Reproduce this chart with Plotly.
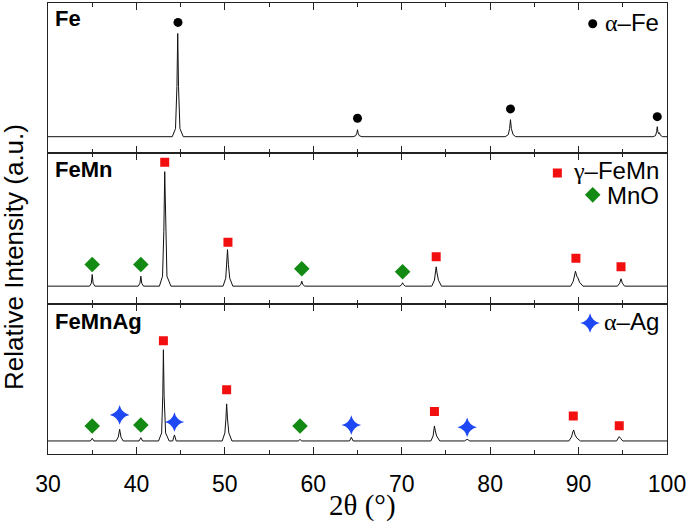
import plotly.graph_objects as go
from plotly.subplots import make_subplots

# ---------------- data ----------------
# Fe pattern (2theta, relative intensity above baseline)
fe_2theta = [30, 44.05, 44.42, 44.58, 44.67, 44.76, 44.92, 45.3,
             64.5, 64.8, 64.93, 65.0, 65.07, 65.2, 65.5,
             81.7, 82.05, 82.2, 82.3, 82.4, 82.6, 82.9,
             98.4, 98.7, 98.83, 98.9, 98.97, 99.05, 99.15, 99.25, 99.5, 100]
fe_int = [0, 0, 8, 50, 103, 50, 8, 0,
          0, 1, 3.5, 7, 3.5, 1, 0,
          0, 2, 8, 17, 8, 2, 0,
          0, 1, 5, 10, 5, 3, 4, 1.5, 0, 0]

femn_2theta = [30,
               34.7, 34.9, 35.0, 35.1, 35.3,
               40.2, 40.4, 40.5, 40.6, 40.8,
               42.6, 42.95, 43.1, 43.2, 43.3, 43.45, 43.9,
               49.8, 50.1, 50.22, 50.3, 50.4, 50.55, 50.9,
               58.4, 58.6, 58.7, 58.8, 59.0,
               69.8, 70.0, 70.1, 70.2, 70.4,
               73.4, 73.7, 73.83, 73.9, 74.0, 74.15, 74.5,
               89.1, 89.4, 89.55, 89.65, 89.8, 89.95, 90.1, 90.5,
               94.4, 94.65, 94.8, 94.95, 95.2,
               100]
femn_int = [0,
            0, 3, 11.7, 3, 0,
            0, 3, 10, 3, 0,
            0, 10, 55, 115, 55, 10, 0,
            0, 8, 22, 36.7, 22, 8, 0,
            0, 2, 5, 2, 0,
            0, 1.5, 3.4, 1.5, 0,
            0, 6, 13, 19.4, 13, 6, 0,
            0, 5, 12, 15, 10, 8, 4, 0,
            0, 3, 7.4, 3, 0,
            0]

femnag_2theta = [30,
                 34.8, 35.0, 35.2,
                 37.7, 37.95, 38.1, 38.25, 38.5,
                 40.3, 40.5, 40.7,
                 42.5, 42.85, 42.98, 43.05, 43.13, 43.3, 43.7,
                 44.1, 44.3, 44.5,
                 49.7, 50.0, 50.12, 50.2, 50.3, 50.45, 50.8,
                 58.3, 58.5, 58.7,
                 64.1, 64.3, 64.5,
                 73.3, 73.55, 73.65, 73.7, 73.8, 73.95, 74.3,
                 77.1, 77.4, 77.7,
                 88.9, 89.2, 89.35, 89.45, 89.6, 89.8, 90.2,
                 94.3, 94.5, 94.6, 94.75, 95.0,
                 100]
femnag_int = [0,
              0, 2.7, 0,
              0, 4, 11.7, 4, 0,
              0, 3.3, 0,
              0, 8, 45, 91, 45, 8, 0,
              0, 6, 0,
              0, 8, 22, 37, 22, 8, 0,
              0, 1.5, 0,
              0, 3.7, 0,
              0, 5, 10, 15, 10, 5, 0,
              0, 1.7, 0,
              0, 4, 9, 11, 6, 3, 0,
              0, 3, 4.3, 2.5, 0,
              0]

# phase markers (2theta, marker height)
fe_alpha_x = [44.7, 65.0, 82.3, 98.9]
fe_alpha_y = [114, 18.4, 27.7, 20]

femn_gamma_x = [43.2, 50.35, 73.9, 89.7, 94.8]
femn_gamma_y = [124.4, 44, 29.4, 28, 19.4]
femn_mno_x = [35.0, 40.5, 58.7, 70.1]
femn_mno_y = [21.7, 21.7, 17.4, 14.4]

femnag_gamma_x = [43.05, 50.2, 73.7, 89.4, 94.6]
femnag_gamma_y = [100, 51, 29.3, 25, 15.3]
femnag_mno_x = [35.0, 40.5, 58.5]
femnag_mno_y = [15, 16, 15]
femnag_ag_x = [38.1, 44.3, 64.3, 77.4]
femnag_ag_y = [26, 19, 16, 13.7]

panel_names = ["Fe", "FeMn", "FeMnAg"]
x_ticks = [30, 40, 50, 60, 70, 80, 90, 100]

# ---------------- styling ----------------
RED = "#f20f0f"
GREEN = "#138a13"
BLUE = "#1f48f5"
SANS = "Liberation Sans, Arial, sans-serif"
SERIF = "Liberation Serif, Times New Roman, serif"

fig = make_subplots(rows=3, cols=1, shared_xaxes=True, vertical_spacing=0)

line_style = dict(color="#111111", width=1)
fig.add_trace(go.Scatter(x=fe_2theta, y=fe_int, mode="lines", line=line_style), row=1, col=1)
fig.add_trace(go.Scatter(x=femn_2theta, y=femn_int, mode="lines", line=line_style), row=2, col=1)
fig.add_trace(go.Scatter(x=femnag_2theta, y=femnag_int, mode="lines", line=line_style), row=3, col=1)

def mk(x, y, sym, color, size, row):
    fig.add_trace(go.Scatter(x=x, y=y, mode="markers",
                             marker=dict(symbol=sym, color=color, size=size, line=dict(width=0))),
                  row=row, col=1)

mk(fe_alpha_x, fe_alpha_y, "circle", "black", 9, 1)
mk(femn_gamma_x, femn_gamma_y, "square", RED, 9, 2)
mk(femn_mno_x, femn_mno_y, "diamond", GREEN, 12, 2)
mk(femnag_gamma_x, femnag_gamma_y, "square", RED, 9, 3)
mk(femnag_mno_x, femnag_mno_y, "diamond", GREEN, 12, 3)
mk(femnag_ag_x, femnag_ag_y, "star-diamond", BLUE, 14, 3)

# legend symbols
mk([91.6], [112.7], "circle", "black", 9, 1)
mk([87.6], [113.7], "square", RED, 9, 2)
mk([91.6], [91.7], "diamond", GREEN, 12, 2)
mk([91.3], [117.7], "star-diamond", BLUE, 14, 3)

y_ranges = [[-16.6, 133.4], [-17.6, 133.4], [-13, 137]]
for i in range(3):
    r = i + 1
    fig.update_xaxes(row=r, col=1, range=[30, 100], tickvals=x_ticks,
                     ticks="inside", ticklen=7, tickwidth=1.2, tickcolor="#222",
                     minor=dict(dtick=5, tick0=30, ticks="inside", ticklen=4, tickwidth=1.2, tickcolor="#222"),
                     showline=True, linecolor="#222", linewidth=1.1, mirror="ticks",
                     showgrid=False, zeroline=False,
                     showticklabels=(r == 3),
                     tickfont=dict(family=SANS, size=23, color="black"),
                     ticklabelstandoff=9)
    fig.update_yaxes(row=r, col=1, range=y_ranges[i], showticklabels=False, ticks="",
                     showline=True, linecolor="#222", linewidth=1.4, mirror=True,
                     showgrid=False, zeroline=False)

ann = []
label_y = [118, 116.7, 119.3]
for i, name in enumerate(panel_names):
    xr = "x" if i == 0 else f"x{i+1}"
    yr = "y" if i == 0 else f"y{i+1}"
    ann.append(dict(text=f"<b>{name}</b>", x=30.6, y=label_y[i], xref=xr, yref=yr,
                    xanchor="left", yanchor="middle", showarrow=False,
                    font=dict(family=SANS, size=22, color="black")))

def leg(txt, greek, y, row):
    xr = "x" if row == 1 else f"x{row}"
    yr = "y" if row == 1 else f"y{row}"
    if greek:
        t = f'<span style="font-family:{SERIF}">{greek}</span>{txt}'
    else:
        t = txt
    ann.append(dict(text=t, x=99.35, y=y, xref=xr, yref=yr, xanchor="right", yanchor="middle",
                    showarrow=False, font=dict(family=SANS, size=24, color="black")))

leg("–Fe", "α", 114, 1)
leg("–FeMn", "γ", 116.5, 2)
leg("MnO", None, 91, 2)
leg("–Ag", "α", 119, 3)

ann.append(dict(text="Relative Intensity (a.u.)", textangle=-90, x=-0.054, y=0.436,
                xref="paper", yref="paper", xanchor="center", yanchor="middle", showarrow=False,
                font=dict(family=SANS, size=26, color="black")))
ann.append(dict(text="2θ (°)", x=0.508, y=-0.115, xref="paper", yref="paper",
                xanchor="center", yanchor="middle", showarrow=False,
                font=dict(family=SERIF, size=29, color="black")))

fig.update_layout(width=688, height=527, margin=dict(l=48, r=21, t=3, b=73),
                  plot_bgcolor="white", paper_bgcolor="white", showlegend=False,
                  annotations=ann)

fig.write_html("out.html", config={"displayModeBar": False},
               post_script="document.body.style.margin='0px';")
